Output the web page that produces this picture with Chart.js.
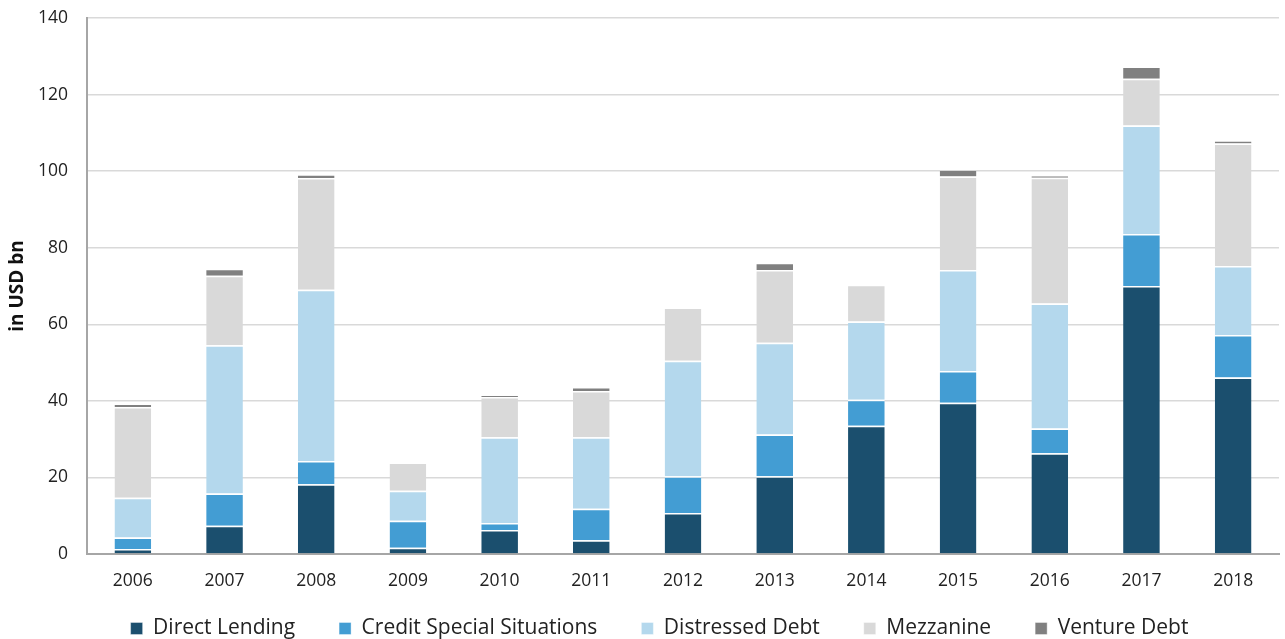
<!DOCTYPE html>
<html>
<head>
<meta charset="utf-8">
<script src="https://cdn.jsdelivr.net/npm/chart.js@4/dist/chart.umd.min.js"></script>
<style>
  html, body { margin: 0; padding: 0; background: #fff; }
  #wrap { width: 1285px; height: 639px; }
</style>
</head>
<body>
<div id="wrap"><canvas id="myChart" width="1285" height="639"></canvas></div>
<script>
const YEARS = ['2006','2007','2008','2009','2010','2011','2012','2013','2014','2015','2016','2017','2018'];

// values in USD bn
const directLending    = [1.3, 7.4, 18.2, 1.6, 6.3, 3.6, 10.7, 20.3, 33.5, 39.5, 26.3, 70.0, 46.1];
const creditSpecial    = [3.0, 8.4, 6.1, 7.1, 1.8, 8.2, 9.6, 10.9, 6.8, 8.3, 6.5, 13.6, 11.1];
const distressedDebt   = [10.4, 38.7, 44.7, 7.8, 22.4, 18.7, 30.2, 24.0, 20.4, 26.4, 32.6, 28.3, 18.0];
const mezzanine        = [23.7, 18.2, 29.2, 7.4, 10.5, 12.1, 13.9, 19.0, 9.6, 24.4, 32.9, 12.2, 32.0];
const ventureDebt      = [0.9, 1.8, 1.0, 0, 0.6, 1.0, 0, 1.9, 0, 1.9, 0.6, 3.2, 0.9];

const Y_TICKS = [0, 20, 40, 60, 80, 100, 120, 140];

const FONT = "'Open Sans', 'Liberation Sans', sans-serif";

const LEGEND_HEIGHT = 40;
const LEGEND_SHIFT_Y = 25;
const LEGEND_SHIFT_X = 18;

function series(label, data, color){
    return {
        label: label,
        data: data,
        backgroundColor: color,
        borderColor: '#ffffff',
        borderWidth: {top: 1.5, left: 0, right: 0, bottom: 0},
        borderSkipped: false,
        categoryPercentage: 1.0,
        barPercentage: 0.4
    };
}

// legend padding is used both ways; keep the wide horizontal gaps but a short box
const compactLegend = {
    id: 'compactLegend',
    afterInit(chart){
        const legend = chart.legend;
        const fit = legend.fit;
        legend.fit = function(){
            fit.call(this);
            this.height = LEGEND_HEIGHT;
        };
        const draw = legend.draw;
        legend.draw = function(){
            const t = this.top, l = this.left, r = this.right;
            this.top = t - LEGEND_SHIFT_Y;
            this.left = l + LEGEND_SHIFT_X;
            this.right = r + LEGEND_SHIFT_X;
            draw.call(this);
            this.top = t; this.left = l; this.right = r;
        };
    }
};

const CTX = document.getElementById('myChart').getContext('2d');
const CONFIG = {
    type: 'bar',
    data: {
        labels: YEARS,
        datasets: [
            series('Direct Lending', directLending, '#1b4f6e'),
            series('Credit Special Situations', creditSpecial, '#439dd3'),
            series('Distressed Debt', distressedDebt, '#b4d8ed'),
            series('Mezzanine', mezzanine, '#d9d9d9'),
            series('Venture Debt', ventureDebt, '#808080')
        ]
    },
    options: {
        responsive: false,
        animation: false,
        layout: { padding: { top: 18, right: 6, left: 4, bottom: 0 } },
        plugins: {
            tooltip: { enabled: false },
            legend: {
                position: 'bottom',
                labels: {
                    color: '#222',
                    font: { family: FONT, size: 21 },
                    boxWidth: 12,
                    boxHeight: 12,
                    padding: 44
                }
            }
        },
        scales: {
            x: {
                stacked: true,
                grid: { display: false, drawTicks: false },
                border: { color: '#a6a6a6', width: 2 },
                ticks: { color: '#222', font: { family: FONT, size: 17.5 }, padding: 17 },
                afterFit: function(axis){ axis.height = 45; }
            },
            y: {
                stacked: true,
                min: 0,
                max: 140,
                afterBuildTicks: function(axis){ axis.ticks = Y_TICKS.map(v => ({value: v})); },
                grid: { color: '#d9d9d9', lineWidth: 1.5, drawTicks: false },
                border: { color: '#a6a6a6', width: 2 },
                ticks: { color: '#222', font: { family: FONT, size: 17.5 }, padding: 19 },
                title: {
                    display: true,
                    text: 'in USD bn',
                    color: '#111',
                    font: { family: FONT, size: 19, weight: 'bold' },
                    padding: { top: 2, bottom: 6 }
                },
                afterFit: function(axis){
                    axis.width = 83;
                    axis.paddingTop = 0;
                    axis.paddingBottom = 0;
                }
            }
        }
    },
    plugins: [compactLegend]
};
const myChart = new Chart(CTX, CONFIG);
</script>
</body>
</html>
